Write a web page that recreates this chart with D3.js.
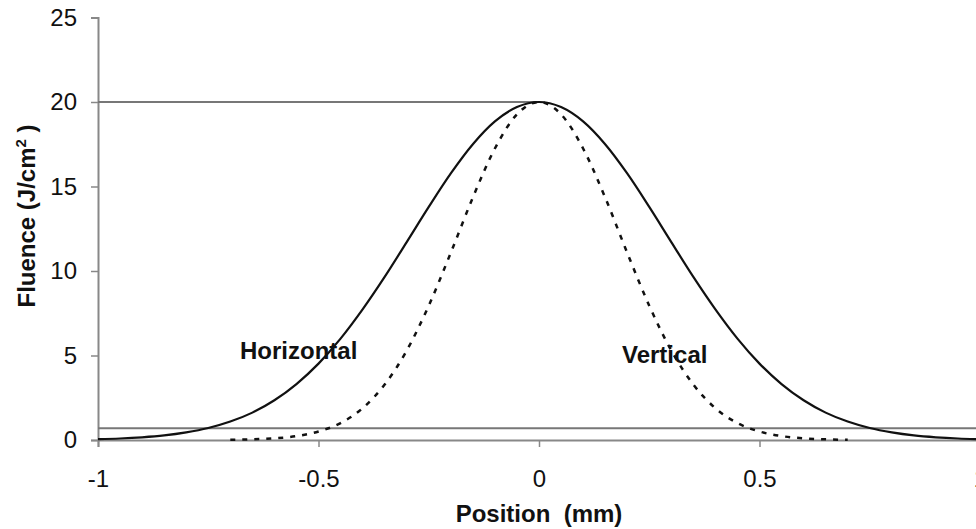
<!DOCTYPE html>
<html>
<head>
<meta charset="utf-8">
<script src="https://cdn.jsdelivr.net/npm/d3@7"></script>
<style>
  body { margin: 0; background: #fff; }
  text { font-family: Arial, "Liberation Sans", sans-serif; }
</style>
</head>
<body>
<div id="container"></div>
<script>
/* CONSTANTS AND GLOBALS */
const width = 976;
const height = 529;

// DATA
const positions = [-1, -0.95, -0.9, -0.85, -0.8, -0.75, -0.7, -0.65, -0.6, -0.55, -0.5, -0.45, -0.4, -0.35, -0.3, -0.25, -0.2, -0.15, -0.1, -0.05,
  0, 0.05, 0.1, 0.15, 0.2, 0.25, 0.3, 0.35, 0.4, 0.45, 0.5, 0.55, 0.6, 0.65, 0.7, 0.75, 0.8, 0.85, 0.9, 0.95, 1];
const horizontal = [0.05, 0.09, 0.16, 0.27, 0.45, 0.71, 1.09, 1.62, 2.35, 3.31, 4.52, 6.0, 7.73, 9.65, 11.71, 13.79, 15.77, 17.5, 18.85, 19.7,
  20, 19.7, 18.85, 17.5, 15.77, 13.79, 11.71, 9.65, 7.73, 6.0, 4.52, 3.31, 2.35, 1.62, 1.09, 0.71, 0.45, 0.27, 0.16, 0.09, 0.05];
const vertical = [null, null, null, null, null, null, 0.01, 0.04, 0.1, 0.23, 0.5, 1.0, 1.88, 3.28, 5.29, 7.95, 11.08, 14.35, 17.25, 19.27,
  20, 19.27, 17.25, 14.35, 11.08, 7.95, 5.29, 3.28, 1.88, 1.0, 0.5, 0.23, 0.1, 0.04, 0.01, null, null, null, null, null, null];
const peakLevel = 20;
const baseLevel = 0.7;
const xTicks = [-1, -0.5, 0, 0.5, 1];
const yTicks = [0, 5, 10, 15, 20, 25];

/* SCALES */
const xScale = d3.scaleLinear().domain([-1, 1]).range([98, 980]);
const yScale = d3.scaleLinear().domain([0, 25]).range([440, 17.5]);

const svg = d3.select("#container")
  .append("svg")
  .attr("width", width)
  .attr("height", height)
  .style("display", "block");

// axes
const xAxis = svg.append("g")
  .attr("transform", `translate(0,${yScale(0)})`)
  .call(d3.axisBottom(xScale).tickValues(xTicks).tickSize(7).tickPadding(23).tickFormat(d3.format("")));
const yAxis = svg.append("g")
  .attr("transform", `translate(${xScale(-1)},0)`)
  .call(d3.axisLeft(yScale).tickValues(yTicks).tickSize(7).tickPadding(14));

[xAxis, yAxis].forEach(g => {
  g.select(".domain").attr("stroke", "#888").attr("stroke-width", 2);
  g.selectAll(".tick line").attr("stroke", "#888").attr("stroke-width", 1.5);
  g.selectAll(".tick text")
    .attr("fill", "#111")
    .style("font-size", "24px")
    .style("font-family", "Arial, 'Liberation Sans', sans-serif");
});
xAxis.selectAll(".tick text").text(d => d === 0 ? "0" : String(d));

// reference lines
svg.append("line")
  .attr("x1", xScale(-1)).attr("x2", xScale(0))
  .attr("y1", yScale(peakLevel)).attr("y2", yScale(peakLevel))
  .attr("stroke", "#777").attr("stroke-width", 2);
svg.append("line")
  .attr("x1", xScale(-1)).attr("x2", width)
  .attr("y1", yScale(baseLevel)).attr("y2", yScale(baseLevel))
  .attr("stroke", "#777").attr("stroke-width", 2);

// curves
const line = d3.line()
  .defined(d => d[1] != null)
  .x(d => xScale(d[0]))
  .y(d => yScale(d[1]))
  .curve(d3.curveMonotoneX);

svg.append("path")
  .datum(positions.map((p, i) => [p, horizontal[i]]))
  .attr("d", line)
  .attr("fill", "none")
  .attr("stroke", "#111")
  .attr("stroke-width", 2.2);

svg.append("path")
  .datum(positions.map((p, i) => [p, vertical[i]]))
  .attr("d", line)
  .attr("fill", "none")
  .attr("stroke", "#111")
  .attr("stroke-width", 2.5)
  .attr("stroke-dasharray", "5,7");

// labels
svg.append("text")
  .attr("x", 240).attr("y", 359)
  .style("font-size", "24px").style("font-weight", "bold")
  .attr("fill", "#111")
  .text("Horizontal");
svg.append("text")
  .attr("x", 622).attr("y", 363)
  .style("font-size", "24px").style("font-weight", "bold")
  .attr("fill", "#111")
  .text("Vertical");

// axis titles
svg.append("text")
  .attr("x", 539).attr("y", 522)
  .attr("text-anchor", "middle")
  .style("font-size", "24px").style("font-weight", "bold")
  .attr("fill", "#111")
  .attr("xml:space", "preserve")
  .text("Position  (mm)");

const yTitle = svg.append("text")
  .attr("transform", "translate(35,216) rotate(-90)")
  .attr("text-anchor", "middle")
  .attr("xml:space", "preserve")
  .style("font-size", "24px").style("font-weight", "bold")
  .attr("fill", "#111");
yTitle.append("tspan").text("Fluence (J/cm");
yTitle.append("tspan").attr("dy", -9).style("font-size", "15px").text("2");
yTitle.append("tspan").attr("dy", 9).text(" )");
</script>
</body>
</html>
